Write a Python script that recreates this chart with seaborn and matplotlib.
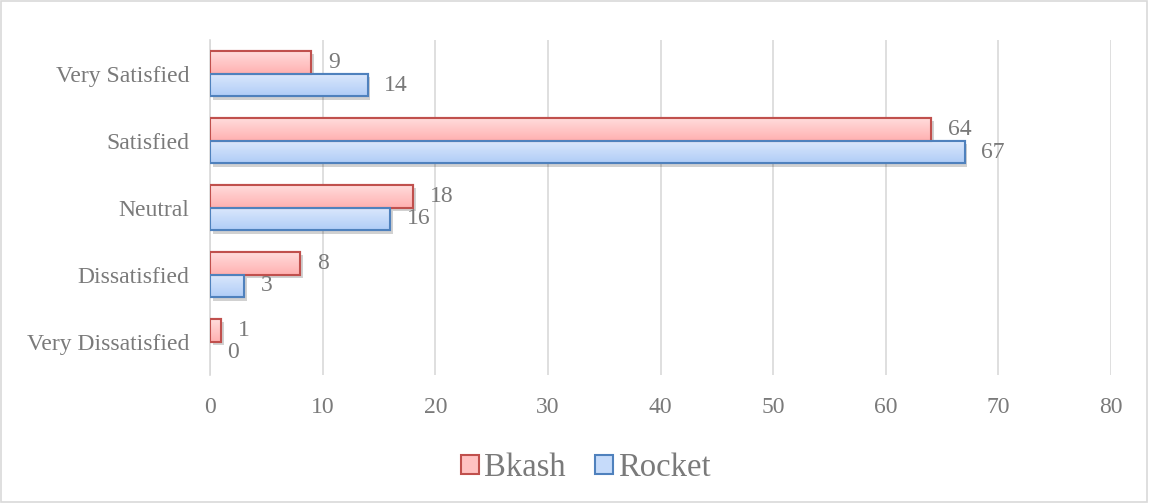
import numpy as np
import pandas as pd
import matplotlib
matplotlib.use("Agg")
import matplotlib.pyplot as plt
import matplotlib.patheffects as pe
from matplotlib.patches import Patch, Rectangle
import seaborn as sns

categories = ["Very Satisfied", "Satisfied", "Neutral", "Dissatisfied", "Very Dissatisfied"]
series_names = ["Bkash", "Rocket"]
bkash = [9, 64, 18, 8, 1]
rocket = [14, 67, 16, 3, 0]
x_ticks = [0, 10, 20, 30, 40, 50, 60, 70, 80]

df = pd.DataFrame({
    "Category": categories * 2,
    "Series": [series_names[0]] * len(categories) + [series_names[1]] * len(categories),
    "Value": bkash + rocket,
})

sns.set_theme(style="white")
plt.rcParams["font.family"] = ["Liberation Serif", "DejaVu Serif"]
text_color = "#7a7a7a"
grid_color = "#d9d9d9"

fill_colors = {"Bkash": "#ffc2c2", "Rocket": "#c6dbfa"}
edge_colors = {"Bkash": "#c0504d", "Rocket": "#4f81bd"}
grad = {"Bkash": ("#ffdcdc", "#ffb0b0"), "Rocket": ("#dce8fc", "#b0cdf7")}

fig = plt.figure(figsize=(11.49, 5.03), dpi=100)
ax = fig.add_axes([0.1828, 0.2545, 0.967 - 0.1828, 0.920 - 0.2545])

sns.barplot(data=df, y="Category", x="Value", hue="Series", order=categories,
            hue_order=series_names, orient="h", width=0.68, palette=fill_colors,
            ax=ax, legend=False, saturation=1)

ax.set_xlim(0, 80)
ax.set_ylim(4.5, -0.5)

# style bars
for container, name in zip(ax.containers, series_names):
    for bar in container:
        bar.set_zorder(3)
        if bar.get_width() <= 0:
            bar.set_linewidth(0)
            bar.set_visible(False)
            continue
        bar.set_edgecolor(edge_colors[name])
        bar.set_linewidth(1.5)
        bar.set_path_effects([pe.SimplePatchShadow(offset=(2, -2.5), shadow_rgbFace="#000000", alpha=0.18), pe.Normal()])
        # gradient fill
        x0, y0 = bar.get_x(), bar.get_y()
        w, h = bar.get_width(), bar.get_height()
        c_top, c_bot = matplotlib.colors.to_rgb(grad[name][0]), matplotlib.colors.to_rgb(grad[name][1])
        t = np.linspace(0, 1, 64)[:, None]
        img = np.array(c_top)[None, None, :] * (1 - t[:, :, None]) + np.array(c_bot)[None, None, :] * t[:, :, None]
        im = ax.imshow(img, extent=(x0, x0 + w, y0 + h, y0), origin="upper", aspect="auto", zorder=3.5, interpolation="bilinear")
        im.set_clip_path(bar)
    labels = [f"{v:g}" for v in container.datavalues]
    ax.bar_label(container, labels=labels, padding=12, fontsize=17, color=text_color, zorder=5)

# redraw edges on top of gradient
for container, name in zip(ax.containers, series_names):
    for bar in container:
        if bar.get_width() > 0:
            r = Rectangle((bar.get_x(), bar.get_y()), bar.get_width(), bar.get_height(),
                          fill=False, edgecolor=edge_colors[name], linewidth=1.5, zorder=4)
            ax.add_patch(r)

ax.set_xlim(0, 80)
ax.set_ylim(4.5, -0.5)
ax.set_xticks(x_ticks)
ax.set_xticklabels([str(t) for t in x_ticks])
ax.xaxis.grid(True, color=grid_color, linewidth=1.2, zorder=0)
ax.yaxis.grid(False)
ax.set_axisbelow(True)
for s in ["top", "right", "bottom"]:
    ax.spines[s].set_visible(False)
ax.spines["left"].set_color(grid_color)
ax.spines["left"].set_linewidth(1.2)
ax.tick_params(axis="both", length=0, labelsize=17, colors=text_color)
ax.tick_params(axis="x", pad=16)
ax.tick_params(axis="y", pad=15)
ax.set_xlabel("")
ax.set_ylabel("")

handles = [Patch(facecolor=fill_colors[n], edgecolor=edge_colors[n], linewidth=1.5) for n in series_names]
leg = fig.legend(handles, series_names, loc="center", bbox_to_anchor=(0.51, 0.07), ncol=2,
                 frameon=False, fontsize=23.5, handlelength=0.55, handleheight=0.55,
                 handletextpad=0.15, columnspacing=0.9)
for t in leg.get_texts():
    t.set_color(text_color)

fig.patches.append(Rectangle((0.001, 0.001), 0.997, 0.997, transform=fig.transFigure,
                             fill=False, edgecolor="#d9d9d9", linewidth=1.2))

fig.savefig("out.png", dpi=100)
